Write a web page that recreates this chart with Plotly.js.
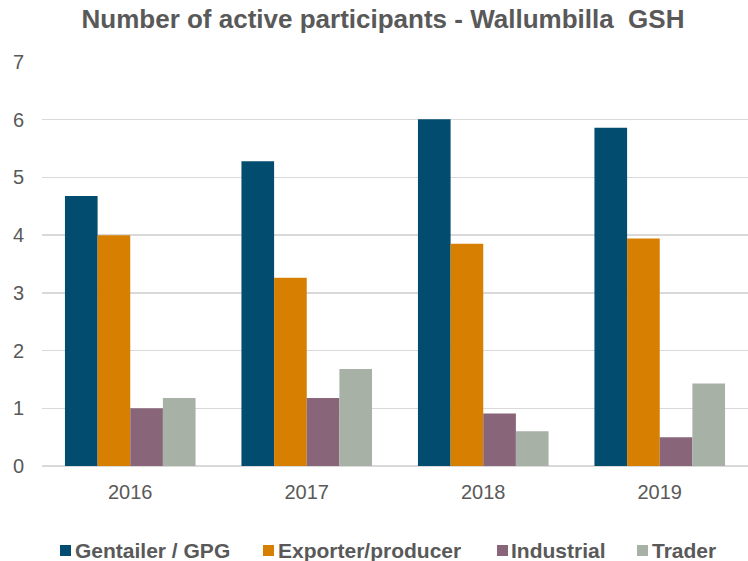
<!DOCTYPE html>
<html>
<head>
<meta charset="utf-8">
<script src="https://cdn.plot.ly/plotly-3.0.1.min.js"></script>
<style>
html,body{margin:0;padding:0;background:#fff;}
#chart{width:748px;height:561px;}
</style>
</head>
<body>
<div id="chart"></div>
<script>
const years = ['2016', '2017', '2018', '2019'];
const seriesNames = ['Gentailer / GPG', 'Exporter/producer', 'Industrial', 'Trader'];
const gentailer = [4.68, 5.28, 6.01, 5.86];
const exporter = [4.00, 3.26, 3.85, 3.94];
const industrial = [1.00, 1.18, 0.91, 0.50];
const trader = [1.18, 1.68, 0.60, 1.43];
const yTicks = [0, 1, 2, 3, 4, 5, 6, 7];

const colors = ['#024C6F', '#D67F00', '#886578', '#A7B1A5'];
const values = [gentailer, exporter, industrial, trader];
const textColor = '#595959';
const fontFam = '"Liberation Sans", Arial, sans-serif';

const traces = seriesNames.map((name, i) => ({
  type: 'bar',
  name: name,
  x: years,
  y: values[i],
  marker: {color: colors[i], line: {width: 0}},
  hoverinfo: 'x+y+name'
}));

// custom legend (squares + labels) positioned in pixels below the plot
const W = 748, H = 561;
const legSquareX = [60, 263, 497, 637];
const legTextX = [75, 278, 511, 652];
const legY = 550.5;
const shapes = seriesNames.map((n, i) => ({
  type: 'rect', xref: 'paper', yref: 'paper',
  x0: (legSquareX[i] - 42) / (W - 42), x1: (legSquareX[i] + 11 - 42) / (W - 42),
  y0: (H - 95 - (legY + 5.5)) / (H - 95 - 62), y1: (H - 95 - (legY - 5.5)) / (H - 95 - 62),
  fillcolor: colors[i], line: {width: 0}
}));
const annotations = seriesNames.map((n, i) => ({
  text: '<b>' + n + '</b>', showarrow: false,
  xref: 'paper', yref: 'paper', xanchor: 'left', yanchor: 'middle',
  x: (legTextX[i] - 42) / (W - 42),
  y: (H - 95 - legY) / (H - 95 - 62),
  font: {family: fontFam, size: 21, color: textColor},
  xshift: -2
}));

const layout = {
  width: W, height: H,
  margin: {l: 42, r: 0, t: 62, b: 95},
  paper_bgcolor: '#ffffff', plot_bgcolor: '#ffffff',
  title: {
    text: '<b>Number of active participants - Wallumbilla  GSH</b>',
    font: {family: fontFam, size: 26, color: textColor},
    xref: 'container', yref: 'container',
    x: 383 / W, xanchor: 'center',
    y: 1 - 19 / H, yanchor: 'middle'
  },
  showlegend: false,
  barmode: 'group',
  bargap: 0.26,
  bargroupgap: 0,
  xaxis: {
    type: 'category',
    tickfont: {family: fontFam, size: 20, color: textColor},
    showgrid: false, showline: false, ticks: '',
    ticklabelstandoff: 12
  },
  yaxis: {
    range: [0, 7],
    tickvals: yTicks,
    ticktext: yTicks.map(String),
    tickfont: {family: fontFam, size: 20, color: textColor},
    showgrid: true, gridcolor: '#D9D9D9', gridwidth: 1.5,
    zeroline: true, zerolinecolor: '#D9D9D9', zerolinewidth: 1.5,
    showline: false, ticks: '',
    ticklabelstandoff: 17
  },
  shapes: shapes,
  annotations: annotations
};

Plotly.newPlot('chart', traces, layout, {displayModeBar: false, staticPlot: true});
</script>
</body>
</html>
